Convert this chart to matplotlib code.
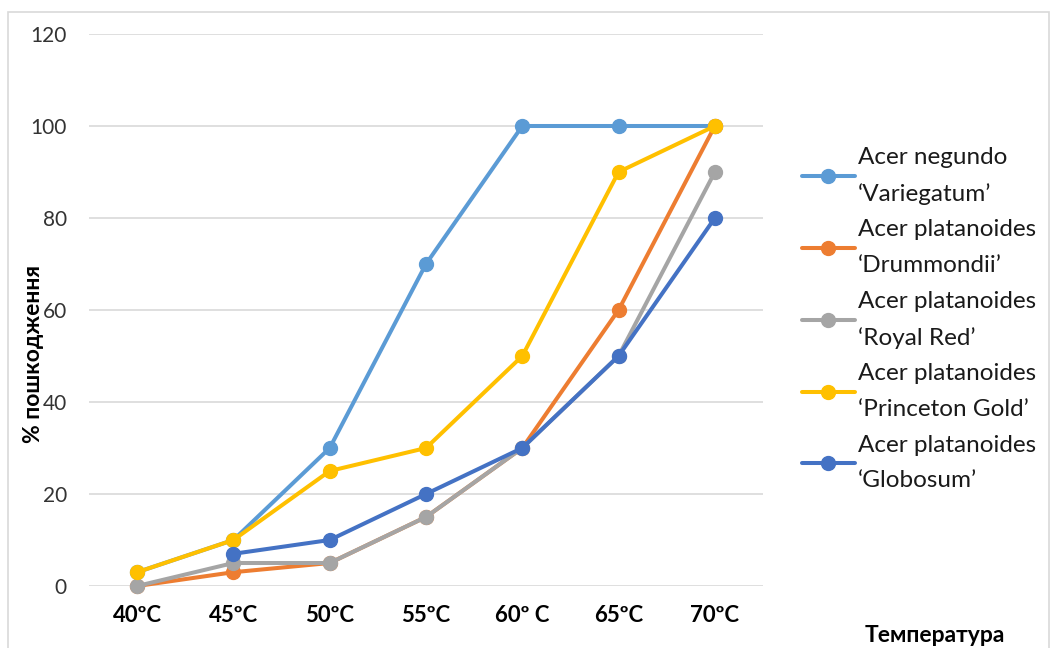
import numpy as np
import matplotlib
matplotlib.use("Agg")
import matplotlib.pyplot as plt
from matplotlib.patches import Rectangle

plt.rcParams['font.family'] = ['Lato', 'Noto Sans', 'DejaVu Sans']

temps = ["40ºC", "45ºC", "50ºC", "55ºC", "60º C", "65ºC", "70ºC"]

variegatum = [3, 10, 30, 70, 100, 100, 100]
drummondii = [0, 3, 5, 15, 30, 60, 100]
royal_red = [0, 5, 5, 15, 30, 50, 90]
princeton_gold = [3, 10, 25, 30, 50, 90, 100]
globosum = [np.nan, 7, 10, 20, 30, 50, 80]

series_labels = [
    "Acer negundo\n‘Variegatum’",
    "Acer platanoides\n‘Drummondii’",
    "Acer platanoides\n‘Royal Red’",
    "Acer platanoides\n‘Princeton Gold’",
    "Acer platanoides\n‘Globosum’",
]
series_values = [variegatum, drummondii, royal_red, princeton_gold, globosum]
series_colors = ["#5B9BD5", "#ED7D31", "#A5A5A5", "#FFC000", "#4472C4"]

fig = plt.figure(figsize=(10.56, 6.48), dpi=100)
ax = fig.add_axes([89/1056, 1-586/648, (763-89)/1056, (586-34)/648])

x = np.arange(len(temps))
for vals, lab, col in zip(series_values, series_labels, series_colors):
    ax.plot(x, vals, color=col, lw=2.9, marker='o', markersize=10,
            label=lab, solid_capstyle='round', zorder=3, clip_on=False)

ax.set_xlim(-0.5, len(temps) - 0.5)
ax.set_ylim(0, 120)
ax.set_yticks(range(0, 121, 20))
ax.set_xticks(x)
ax.set_xticklabels(temps, fontsize=16, fontweight='bold', color='#000000')
ax.tick_params(axis='y', labelsize=15, colors='#333333', length=0, pad=16)
ax.tick_params(axis='x', length=0, pad=14)
ax.grid(axis='y', color='#D9D9D9', lw=1.2, zorder=0)
for s in ax.spines.values():
    s.set_visible(False)

fig.text(34/1056, 1-354/648, "% пошкодження", rotation=90, ha='center',
         va='center', fontsize=16.5, fontweight='bold')
fig.text(935/1056, 1-635/648, "Температура", ha='center', va='center',
         fontsize=16.5, fontweight='bold')

leg = fig.legend(loc='upper left', bbox_to_anchor=(792/1056, 1-137/648),
                 frameon=False, fontsize=17.5, handlelength=2.2,
                 handletextpad=0.12, labelspacing=0.6, borderaxespad=0)
for t in leg.get_texts():
    t.set_linespacing(1.86)
    t.set_color('#1a1a1a')

fig.patches.append(Rectangle((8/1056, -0.05), (1049-8)/1056, 1.05-12/648,
                             transform=fig.transFigure, fill=False,
                             edgecolor='#D9D9D9', lw=1.2))

fig.savefig("out.png", dpi=100)
